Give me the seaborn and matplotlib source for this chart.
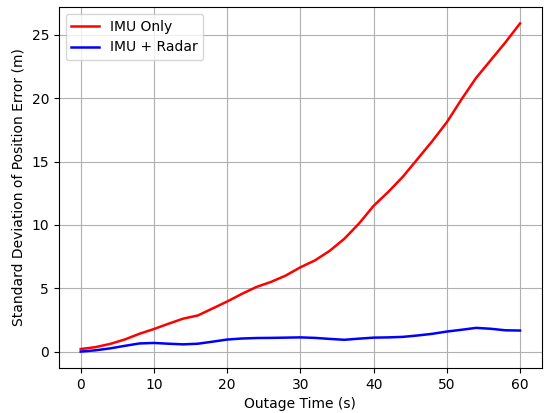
import numpy as np
import pandas as pd
import matplotlib
matplotlib.use("Agg")
import matplotlib.pyplot as plt
import seaborn as sns

# Outage time samples (s)
outage_time = [0, 2, 4, 6, 8, 10, 12, 14, 16, 18, 20, 22, 24, 26, 28, 30,
               32, 34, 36, 38, 40, 42, 44, 46, 48, 50, 52, 54, 56, 58, 60]

# Std of position error (m), IMU only
imu_only = [0.2, 0.35, 0.6, 0.95, 1.4, 1.78, 2.2, 2.6, 2.85, 3.4, 3.95, 4.55,
            5.1, 5.5, 6.0, 6.65, 7.2, 7.95, 8.9, 10.1, 11.5, 12.6, 13.8, 15.2,
            16.6, 18.1, 19.9, 21.6, 23.0, 24.4, 25.9]

# Std of position error (m), IMU + Radar
imu_radar = [0.0, 0.1, 0.25, 0.45, 0.64, 0.68, 0.62, 0.57, 0.62, 0.78, 0.95,
             1.03, 1.07, 1.08, 1.1, 1.12, 1.08, 1.0, 0.93, 1.02, 1.1, 1.12,
             1.16, 1.27, 1.4, 1.58, 1.72, 1.87, 1.8, 1.68, 1.66]

df = pd.DataFrame({"t": outage_time, "IMU Only": imu_only, "IMU + Radar": imu_radar})

fig, ax = plt.subplots(figsize=(5.44, 4.13), dpi=100)
fig.subplots_adjust(left=0.108, right=0.9963, top=0.983, bottom=0.109)

sns.lineplot(data=df, x="t", y="IMU Only", color="red", label="IMU Only",
             linewidth=1.8, ax=ax)
sns.lineplot(data=df, x="t", y="IMU + Radar", color="blue", label="IMU + Radar",
             linewidth=1.8, ax=ax)

ax.set_xlabel("Outage Time (s)")
ax.set_ylabel("Standard Deviation of Position Error (m)")
ax.set_xticks([0, 10, 20, 30, 40, 50, 60])
ax.set_yticks([0, 5, 10, 15, 20, 25])
ax.grid(True, color="#b0b0b0", linewidth=0.8)
ax.legend(loc="upper left")

fig.savefig("out.png", dpi=100)
